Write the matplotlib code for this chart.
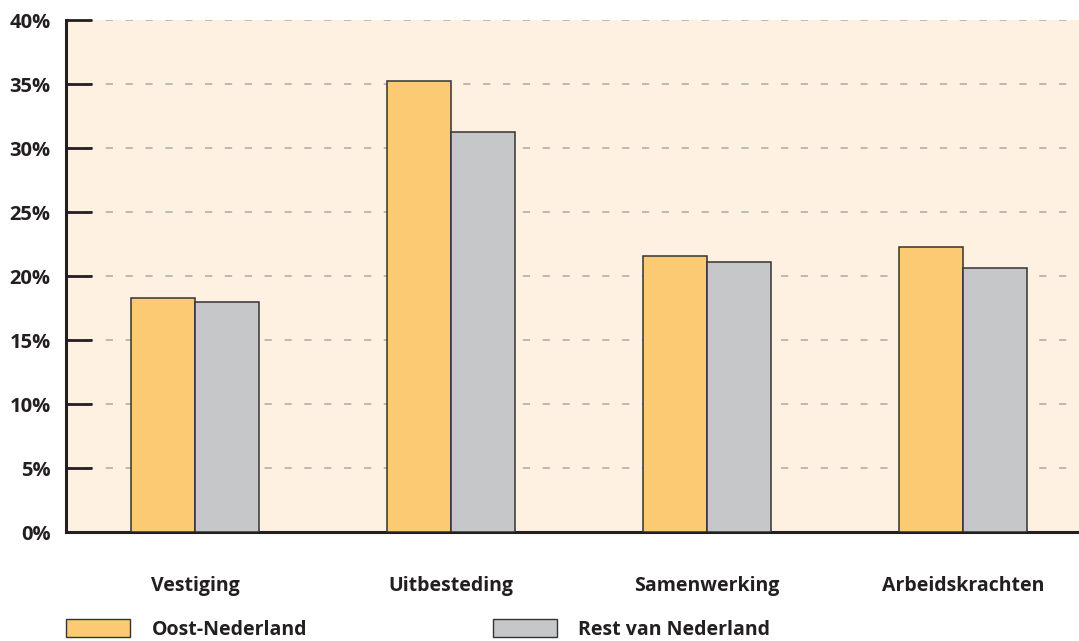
import numpy as np
import matplotlib.pyplot as plt
from matplotlib.patches import Patch

# Data (percent)
categories = ["Vestiging", "Uitbesteding", "Samenwerking", "Arbeidskrachten"]
oost = [18.3, 35.2, 21.6, 22.3]
rest = [18.0, 31.25, 21.1, 20.65]
series_names = ["Oost-Nederland", "Rest van Nederland"]
yticks = [0, 5, 10, 15, 20, 25, 30, 35, 40]

orange = "#FCCA72"
grey = "#C6C7C9"
bg = "#FEF1E1"
ink = "#231F20"

plt.rcParams["font.family"] = ["Open Sans", "DejaVu Sans"]

fig = plt.figure(figsize=(10.79, 6.41), dpi=100)
ax = fig.add_axes([66 / 1079, 109 / 641, 1013 / 1079, 512 / 641])
ax.set_facecolor(bg)

x = np.arange(len(categories))
w = 0.25
ax.bar(x - w / 2, oost, width=w, color=orange, edgecolor="#333333", linewidth=1.1, zorder=3)
ax.bar(x + w / 2, rest, width=w, color=grey, edgecolor="#333333", linewidth=1.1, zorder=3)

ax.set_xlim(-0.504, 3.453)
ax.set_ylim(0, 40)

ax.set_yticks(yticks)
ax.set_yticklabels([f"{t}%" for t in yticks], fontsize=14.5, fontweight="bold", color=ink)
ax.tick_params(axis="y", direction="in", length=19, width=2, color=ink, pad=11)

ax.set_xticks(x)
ax.set_xticklabels(categories, fontsize=14, fontweight="bold", color=ink)
ax.tick_params(axis="x", length=0, pad=32)

ax.grid(axis="y", color="#B5B5B5", linestyle=(0, (4, 7)), linewidth=1.3, zorder=1)

for s in ["top", "right"]:
    ax.spines[s].set_visible(False)
for s in ["left", "bottom"]:
    ax.spines[s].set_color(ink)
    ax.spines[s].set_linewidth(2.2)

handles = [Patch(facecolor=orange, edgecolor="#333333", linewidth=1),
           Patch(facecolor=grey, edgecolor="#333333", linewidth=1)]
fig.legend(handles, series_names, loc="lower left", bbox_to_anchor=(66 / 1079, 0.002),
           ncol=2, frameon=False, borderpad=0, borderaxespad=0,
           handlelength=3.3, handleheight=1.1, handletextpad=1.1, columnspacing=9.55,
           prop={"size": 14, "weight": "bold"})
for t in fig.legends[0].get_texts():
    t.set_color(ink)

fig.savefig("out.png", dpi=100)
